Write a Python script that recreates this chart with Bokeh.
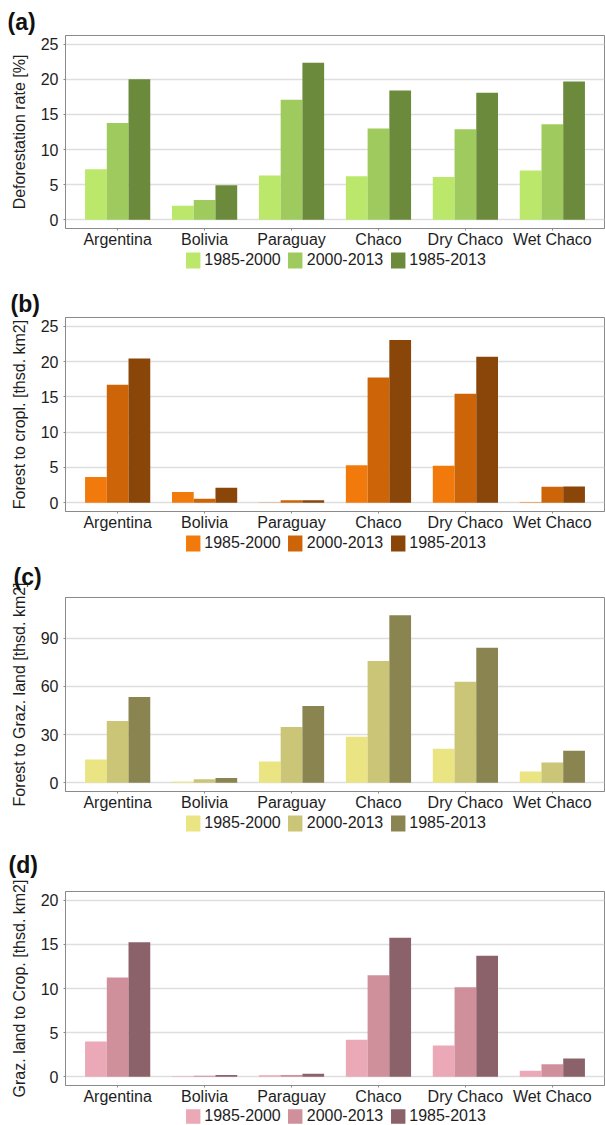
import numpy as np
from bokeh.plotting import figure
from bokeh.models import (ColumnDataSource, Range1d, FixedTicker, Legend,
                          LegendItem, Spacer)
from bokeh.transform import dodge
from bokeh.layouts import column
from bokeh.embed import file_html
from bokeh.resources import INLINE

# ---------------- data ----------------
categories = ["Argentina", "Bolivia", "Paraguay", "Chaco", "Dry Chaco", "Wet Chaco"]
periods = ["1985-2000", "2000-2013", "1985-2013"]

defor_1985_2000 = [7.2, 2.0, 6.3, 6.2, 6.1, 7.0]
defor_2000_2013 = [13.8, 2.8, 17.1, 13.0, 12.9, 13.6]
defor_1985_2013 = [20.0, 4.9, 22.35, 18.4, 18.1, 19.7]

crop_1985_2000 = [3.65, 1.5, 0.02, 5.3, 5.25, 0.05]
crop_2000_2013 = [16.7, 0.55, 0.35, 17.75, 15.45, 2.25]
crop_1985_2013 = [20.45, 2.1, 0.35, 23.05, 20.7, 2.3]

graz_1985_2000 = [14.5, 0.6, 13.2, 28.6, 21.1, 7.0]
graz_2000_2013 = [38.5, 2.1, 34.8, 75.9, 62.9, 12.6]
graz_1985_2013 = [53.4, 2.9, 47.8, 104.5, 84.2, 19.9]

g2c_1985_2000 = [4.0, 0.04, 0.15, 4.2, 3.55, 0.68]
g2c_2000_2013 = [11.25, 0.1, 0.19, 11.5, 10.15, 1.4]
g2c_1985_2013 = [15.25, 0.19, 0.34, 15.75, 13.7, 2.07]

panel_letters = ["(a)", "(b)", "(c)", "(d)"]
y_titles = ["Deforestation rate [%]", "Forest to cropl. [thsd. km2]",
            "Forest to Graz. land [thsd. km2]", "Graz. land to Crop. [thsd. km2]"]
y_ticks = [[0, 5, 10, 15, 20, 25], [0, 5, 10, 15, 20, 25], [0, 30, 60, 90],
           [0, 5, 10, 15, 20]]
y_limits = [(-1.25, 26.25), (-1.25, 26.25), (-5.5, 115.5), (-1.0, 21.0)]
series = [
    [defor_1985_2000, defor_2000_2013, defor_1985_2013],
    [crop_1985_2000, crop_2000_2013, crop_1985_2013],
    [graz_1985_2000, graz_2000_2013, graz_1985_2013],
    [g2c_1985_2000, g2c_2000_2013, g2c_1985_2013],
]
palettes = [
    ["#bbe86a", "#9fcb5e", "#6b8a3b"],
    ["#f27a0c", "#cd6508", "#8a4509"],
    ["#ebe483", "#cbc577", "#8a8450"],
    ["#eba8b6", "#cf909b", "#8c626a"],
]

# ---------------- layout (pixels) ----------------
FIG_W = 605
LEFT, RIGHT = 65, 1
FRAME_H = 194
AXIS_H = 22
TOP_SPACER = 6
tops = [28, 31, 44, 56]          # space above each frame (holds the letter)
title_standoff = [1, 2, 16, 28]
letter_x = [7, 10, 13, 8]         # letter left edge, px from figure left
strip_h = [36, 20, 22, 18]        # legend strip heights
glyph_h = [20, 20, 20, 18]

FONT = "Liberation Sans"
TXT = "#1e1e1e"
AXC = "#8a8a8a"

X0, X1 = -0.6, 5.6
offsets = [-0.25, 0.0, 0.25]


def add_bars(p, source, k):
    rs = []
    for i in range(len(periods)):
        r = p.vbar(x=dodge("x", offsets[i], range=p.x_range), top="v%d" % i,
                   bottom=0, width=0.25, source=source,
                   fill_color=palettes[k][i], line_color=None)
        rs.append(r)
    return rs


items_all = [Spacer(width=FIG_W, height=TOP_SPACER)]
for k in range(4):
    y0, y1 = y_limits[k]
    src = {"x": list(range(len(categories)))}
    for i in range(len(periods)):
        src["v%d" % i] = series[k][i]
    source = ColumnDataSource(src)

    # ---- chart ----
    p = figure(width=FIG_W, height=tops[k] + FRAME_H + AXIS_H,
               x_range=Range1d(X0, X1), y_range=Range1d(y0, y1),
               output_backend="svg", toolbar_location=None,
               min_border_left=LEFT, min_border_right=RIGHT,
               min_border_top=tops[k], min_border_bottom=AXIS_H,
               title=panel_letters[k])
    p.title.align = "left"
    p.title.offset = letter_x[k] - LEFT
    p.title.text_font = FONT
    p.title.text_font_size = "23px"
    p.title.text_font_style = "bold"
    p.title.text_color = "#111111"
    p.title.vertical_align = "bottom"
    p.title.standoff = title_standoff[k]

    p.background_fill_color = "white"
    p.border_fill_color = "white"
    p.outline_line_color = AXC

    add_bars(p, source, k)

    p.xaxis.ticker = FixedTicker(ticks=list(range(len(categories))))
    p.xaxis.major_label_overrides = {i: c for i, c in enumerate(categories)}
    p.yaxis.ticker = FixedTicker(ticks=y_ticks[k])
    p.ygrid.ticker = FixedTicker(ticks=y_ticks[k])
    for ax in (p.xaxis, p.yaxis):
        ax.axis_line_color = AXC
        ax.major_tick_line_color = AXC
        ax.major_tick_out = 2
        ax.major_tick_in = 0
        ax.minor_tick_line_color = None
        ax.major_label_text_font = FONT
        ax.major_label_text_font_size = "16px"
        ax.major_label_text_color = TXT
    p.xaxis.major_label_standoff = 0
    p.yaxis.major_label_standoff = 5
    p.yaxis.axis_label = y_titles[k]
    p.yaxis.axis_label_text_font = FONT
    p.yaxis.axis_label_text_font_size = "16px"
    p.yaxis.axis_label_text_font_style = "normal"
    p.yaxis.axis_label_text_color = TXT
    p.yaxis.axis_label_standoff = 10

    p.xgrid.grid_line_color = None
    p.ygrid.grid_line_color = "#dedede"
    p.ygrid.grid_line_width = 1.3
    items_all.append(p)

    # ---- legend strip (hidden copies of the bar renderers feed the legend) ----
    lg = figure(width=FIG_W, height=strip_h[k], x_range=Range1d(X0, X1),
                y_range=Range1d(y0, y1), output_backend="svg",
                toolbar_location=None, x_axis_location=None,
                y_axis_location=None, min_border_left=LEFT,
                min_border_right=RIGHT, min_border_top=0, min_border_bottom=0)
    lg.outline_line_color = None
    lg.xgrid.grid_line_color = None
    lg.ygrid.grid_line_color = None
    lg.background_fill_color = "white"
    lg.border_fill_color = "white"
    rs = add_bars(lg, source, k)
    for r in rs:
        r.visible = False
    items = [LegendItem(label=per, renderers=[r]) for per, r in zip(periods, rs)]
    legend = Legend(items=items, orientation="horizontal", location="top_center",
                    label_text_font=FONT, label_text_font_size="16px",
                    label_text_color=TXT, glyph_width=18, glyph_height=glyph_h[k],
                    label_standoff=3, spacing=5, padding=0, margin=0,
                    border_line_color=None, background_fill_alpha=0,
                    click_policy="none")
    lg.add_layout(legend, "center")
    items_all.append(lg)

layout = column(*items_all, spacing=0)
open("out.html", "w").write(file_html(layout, INLINE))
